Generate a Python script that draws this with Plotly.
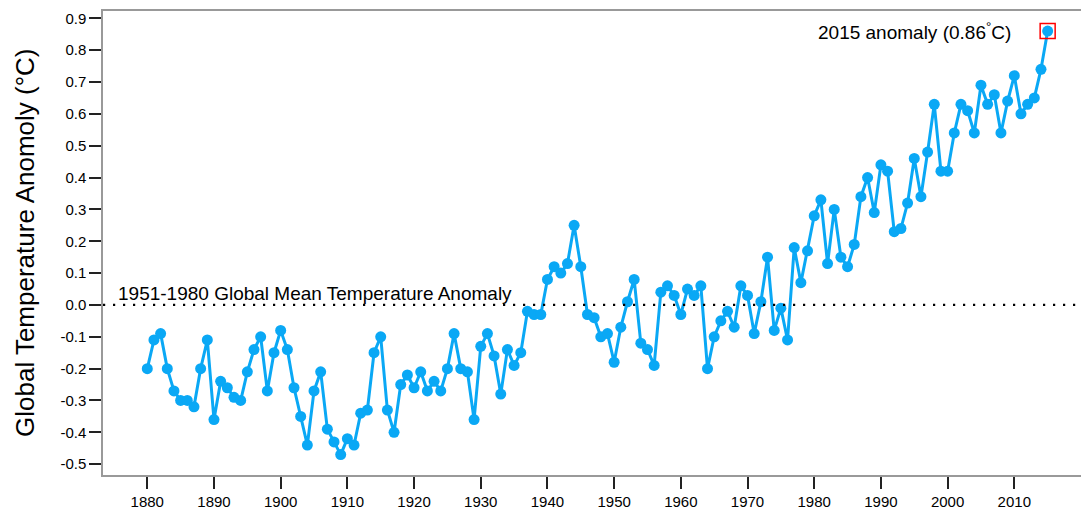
import plotly.graph_objects as go

years = list(range(1880, 2016))
anomaly = [
    -0.20, -0.11, -0.09, -0.20, -0.27, -0.30, -0.30, -0.32, -0.20, -0.11,
    -0.36, -0.24, -0.26, -0.29, -0.30, -0.21, -0.14, -0.10, -0.27, -0.15,
    -0.08, -0.14, -0.26, -0.35, -0.44, -0.27, -0.21, -0.39, -0.43, -0.47,
    -0.42, -0.44, -0.34, -0.33, -0.15, -0.10, -0.33, -0.40, -0.25, -0.22,
    -0.26, -0.21, -0.27, -0.24, -0.27, -0.20, -0.09, -0.20, -0.21, -0.36,
    -0.13, -0.09, -0.16, -0.28, -0.14, -0.19, -0.15, -0.02, -0.03, -0.03,
    0.08, 0.12, 0.10, 0.13, 0.25, 0.12, -0.03, -0.04, -0.10, -0.09,
    -0.18, -0.07, 0.01, 0.08, -0.12, -0.14, -0.19, 0.04, 0.06, 0.03,
    -0.03, 0.05, 0.03, 0.06, -0.20, -0.10, -0.05, -0.02, -0.07, 0.06,
    0.03, -0.09, 0.01, 0.15, -0.08, -0.01, -0.11, 0.18, 0.07, 0.17,
    0.28, 0.33, 0.13, 0.30, 0.15, 0.12, 0.19, 0.34, 0.40, 0.29,
    0.44, 0.42, 0.23, 0.24, 0.32, 0.46, 0.34, 0.48, 0.63, 0.42,
    0.42, 0.54, 0.63, 0.61, 0.54, 0.69, 0.63, 0.66, 0.54, 0.64,
    0.72, 0.60, 0.63, 0.65, 0.74, 0.86,
]
x_ticks = list(range(1880, 2011, 10))
y_ticks = [-0.5, -0.4, -0.3, -0.2, -0.1, 0.0, 0.1, 0.2, 0.3, 0.4, 0.5, 0.6, 0.7, 0.8, 0.9]
y_tick_text = ["%.1f" % v for v in y_ticks]
ref_label = "1951-1980 Global Mean Temperature Anomaly"
hl_year, hl_value = years[-1], anomaly[-1]
hl_label = "2015 anomaly (0.86<sup>°</sup>C)"

FONT = "Liberation Sans, Arial, sans-serif"
BLUE = "#0aa8f5"

fig = go.Figure()
fig.add_trace(go.Scatter(
    x=years, y=anomaly, mode="lines+markers",
    line=dict(color=BLUE, width=3),
    marker=dict(color=BLUE, size=11),
    showlegend=False, hoverinfo="skip",
))
fig.add_trace(go.Scatter(
    x=[hl_year], y=[hl_value], mode="markers",
    marker=dict(symbol="square-open", size=15, color="red", line=dict(color="red", width=1.5)),
    showlegend=False, hoverinfo="skip",
))
fig.add_hline(y=0, line=dict(color="black", width=2.2, dash="2.2px,7.8px"))

fig.add_annotation(x=1875.3, y=0, xref="x", yref="y", text=ref_label, showarrow=False,
                   xanchor="left", yanchor="bottom", yshift=-1,
                   font=dict(family=FONT, size=19, color="black"))
fig.add_annotation(x=hl_year, y=hl_value, xref="x", yref="y", text=hl_label, showarrow=False,
                   xanchor="right", yanchor="middle", xshift=-35,
                   font=dict(family=FONT, size=19, color="black"))
fig.add_annotation(x=-78 / 986, y=0.5, xref="paper", yref="paper",
                   text="Global Temperature Anomoly (°C)", textangle=-90, showarrow=False,
                   xanchor="center", yanchor="middle",
                   font=dict(family=FONT, size=26, color="black"))

# page body has an 8px default margin, so the figure is offset by (8, 8)
fig.update_layout(
    width=1081, height=503,
    margin=dict(l=95, r=0, t=3, b=36),
    paper_bgcolor="white", plot_bgcolor="white",
    font=dict(family=FONT, size=15, color="black"),
    xaxis=dict(
        range=[1873.36, 2021.2], tickvals=x_ticks, ticks="outside", ticklen=12,
        tickcolor="#222", tickwidth=1.5, showgrid=False, zeroline=False,
        showline=True, linecolor="#999", linewidth=1.5, mirror=True,
        tickfont=dict(family=FONT, size=15, color="black"),
    ),
    yaxis=dict(
        range=[-0.534, 0.923], tickvals=y_ticks, ticktext=y_tick_text, ticks="outside",
        ticklen=12, tickcolor="#222", tickwidth=1.5, showgrid=False, zeroline=False,
        showline=True, linecolor="#999", linewidth=1.5,
        tickfont=dict(family=FONT, size=15, color="black"),
    ),
)

fig.write_html("out.html")
